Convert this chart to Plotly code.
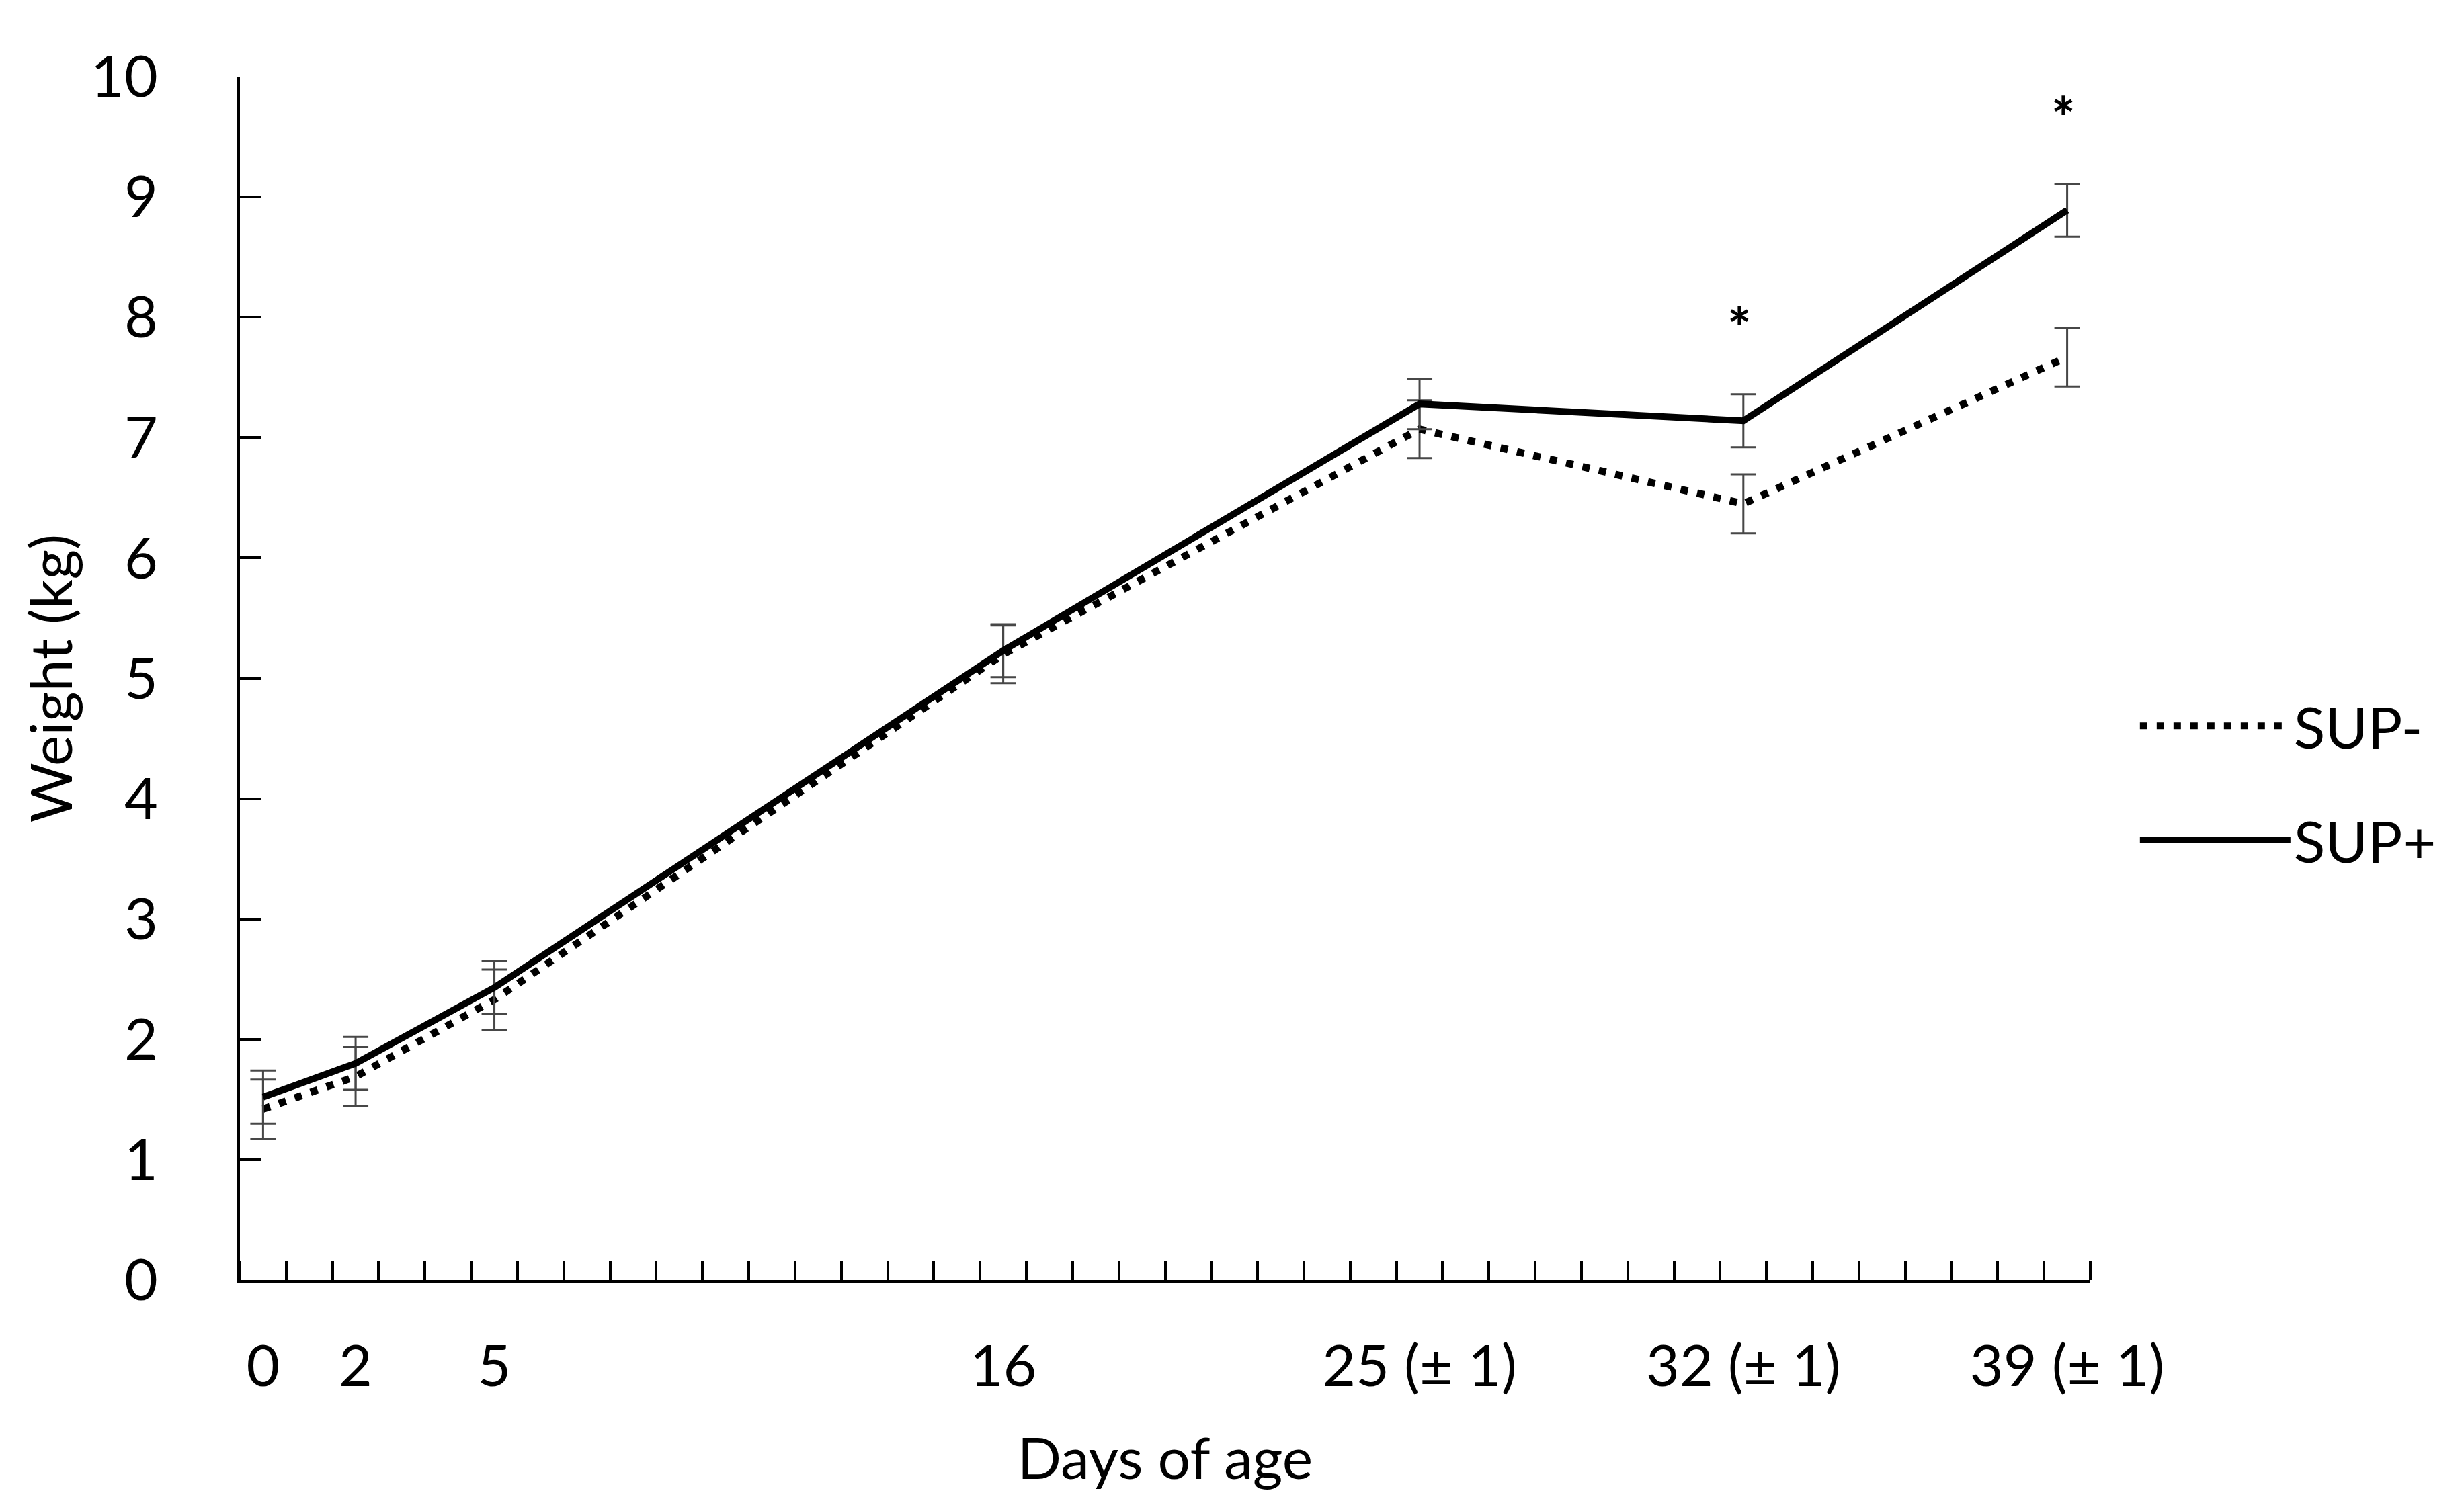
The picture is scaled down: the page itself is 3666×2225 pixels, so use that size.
import plotly.graph_objects as go

days = [0, 2, 5, 16, 25, 32, 39]
tick_labels = ["0", "2", "5", "16", "25 (± 1)", "32 (± 1)", "39 (± 1)"]
sup_minus = [1.42, 1.69, 2.33, 5.20, 7.07, 6.45, 7.67]
sup_minus_err = [0.245, 0.245, 0.25, 0.24, 0.24, 0.245, 0.245]
sup_plus = [1.52, 1.80, 2.43, 5.23, 7.28, 7.14, 8.89]
sup_plus_err = [0.22, 0.22, 0.22, 0.22, 0.21, 0.22, 0.22]
star_days = [32, 39]
star_y = [7.92, 9.67]

FONT = "Lato"
err_color = "#474747"

fig = go.Figure()
fig.add_trace(go.Scatter(
    x=days, y=sup_minus, name="SUP-", mode="lines", legendgroup="minus",
    line=dict(color="black", width=11, dash="11px,14px"),
    error_y=dict(type="data", array=sup_minus_err, visible=True,
                 color=err_color, thickness=3, width=19),
))
fig.add_trace(go.Scatter(
    x=days, y=sup_plus, name="SUP+", mode="lines", legendgroup="plus",
    line=dict(color="black", width=10),
    error_y=dict(type="data", array=sup_plus_err, visible=True,
                 color=err_color, thickness=3, width=19),
))

for d, yv in zip(star_days, star_y):
    fig.add_annotation(x=d, y=yv, text="<b>*</b>", showarrow=False,
                       font=dict(family=FONT, size=84, color="black"),
                       xshift=-6)

fig.update_layout(
    width=3666, height=2225,
    paper_bgcolor="white", plot_bgcolor="white",
    margin=dict(l=349, r=564, t=106, b=328),
    font=dict(family=FONT, size=86, color="black"),
    legend=dict(x=1.025, y=0.413, xanchor="left", yanchor="middle",
                font=dict(family=FONT, size=86, color="black"),
                itemwidth=224, tracegroupgap=55, bgcolor="rgba(0,0,0,0)"),
)
fig.update_xaxes(
    range=[-0.5, 39.5], tickmode="array", tickvals=days, ticktext=tick_labels,
    ticks="", showgrid=False, zeroline=False,
    showline=True, linecolor="black", linewidth=5,
    ticklabelstandoff=50,
    minor=dict(tick0=-0.5, dtick=1, ticks="inside", ticklen=29,
               tickwidth=4, tickcolor="black", showgrid=False),
    title=dict(text="Days of age", font=dict(family=FONT, size=86), standoff=62),
)
fig.update_yaxes(
    range=[0, 10], dtick=1, tick0=0, ticks="inside", ticklen=32, tickwidth=4,
    tickcolor="black", showgrid=False, zeroline=False,
    showline=True, linecolor="black", linewidth=4,
    ticklabelstandoff=101,
    title=dict(text="Weight (kg)", font=dict(family=FONT, size=86), standoff=0),
)

fig.write_html("out.html")
